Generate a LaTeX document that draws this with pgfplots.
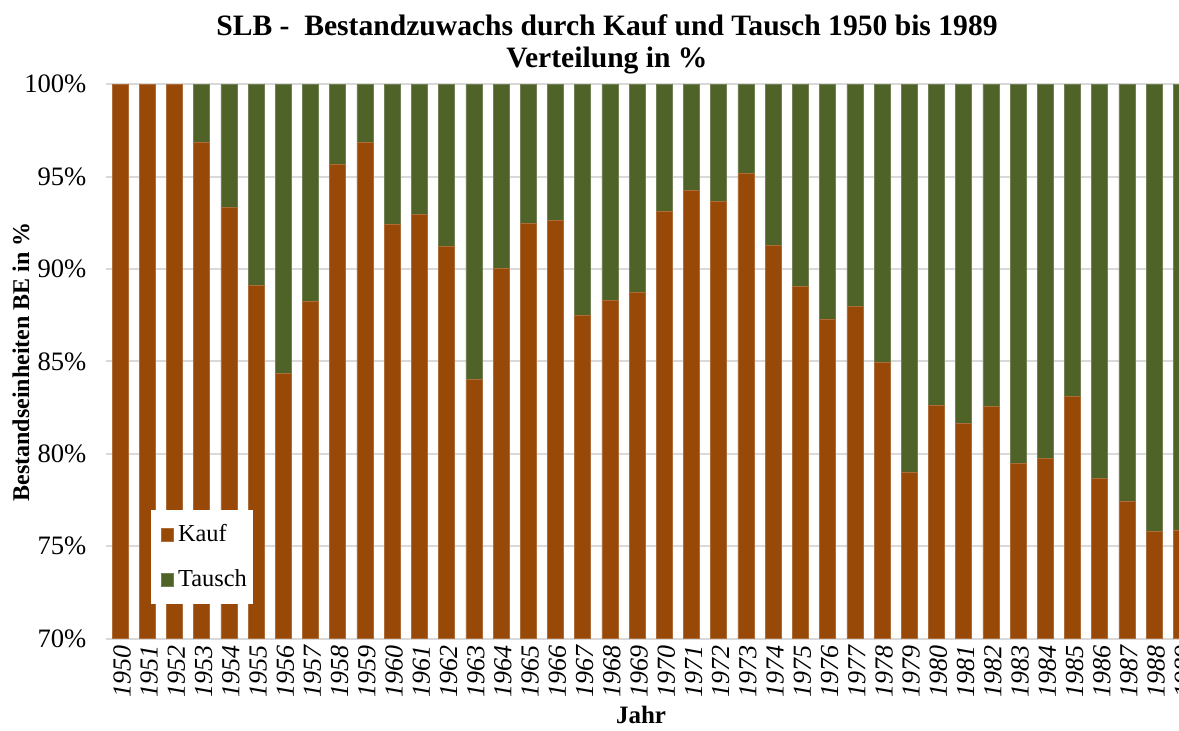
\documentclass[border=0pt]{standalone}
\usepackage{pgfplots}
\pgfplotsset{compat=1.18}
\usepackage{pgfplotstable}
\usepackage{fontspec}
\setmainfont{Liberation Serif}
\definecolor{kauf}{HTML}{984807}
\definecolor{tausch}{HTML}{4F6228}
\definecolor{gridc}{HTML}{D9D9D9}

\pgfplotstableread{
x kauf tausch
0 100 0
1 100 0
2 100 0
3 96.86 3.14
4 93.35 6.65
5 89.11 10.89
6 84.34 15.66
7 88.27 11.73
8 95.68 4.32
9 96.86 3.14
10 92.43 7.57
11 92.97 7.03
12 91.26 8.74
13 84.02 15.98
14 90.05 9.95
15 92.49 7.51
16 92.65 7.35
17 87.51 12.49
18 88.32 11.68
19 88.76 11.24
20 93.14 6.86
21 94.27 5.73
22 93.68 6.32
23 95.17 4.83
24 91.30 8.70
25 89.06 10.94
26 87.31 12.69
27 87.97 12.03
28 84.94 15.06
29 79.03 20.97
30 82.61 17.39
31 81.64 18.36
32 82.57 17.43
33 79.48 20.52
34 79.75 20.25
35 83.11 16.89
36 78.69 21.31
37 77.41 22.59
38 75.81 24.19
39 75.85 24.15
}\datatable

\begin{document}
\begin{tikzpicture}
\begin{axis}[
  scale only axis, width=544.3pt, height=277.2pt,
  ybar stacked, bar width=8pt,
  xmin=-0.5, xmax=39.5, ymin=70, ymax=100,
  xtick={0,...,39},
  xticklabels={1950,1951,1952,1953,1954,1955,1956,1957,1958,1959,1960,1961,1962,1963,1964,1965,1966,1967,1968,1969,1970,1971,1972,1973,1974,1975,1976,1977,1978,1979,1980,1981,1982,1983,1984,1985,1986,1987,1988,1989},
  ytick={70,75,80,85,90,95,100},
  yticklabels={70\%,75\%,80\%,85\%,90\%,95\%,100\%},
  xticklabel style={rotate=90, anchor=east, yshift=-1pt, font=\itshape\fontsize{13}{15}\selectfont},
  yticklabel style={font=\fontsize{13.3}{15}\selectfont, xshift=-6.5pt},
  major tick length=0pt,
  axis line style={draw=none},
  ymajorgrids, major grid style={draw=gridc, line width=1pt},
  legend style={at={(0.041,0.232)}, anchor=north west, draw=none, fill=white,
    font=\fontsize{12.2}{14}\selectfont, row sep=8.5pt, inner xsep=1pt, inner ysep=5pt,
    /tikz/every even column/.append style={column sep=2.3pt},
    /tikz/every odd column/.append style={inner xsep=0.5pt}},
  legend cell align=left,
  legend image code/.code={\path (-4pt,0pt); \fill[#1] (0pt,-3.2pt) rectangle (6pt,3.2pt);},
]
\addplot[fill=kauf, draw=kauf!80!white, line width=0.3pt] table[x=x, y=kauf] {\datatable};
\addplot[fill=tausch, draw=tausch!80!white, line width=0.3pt] table[x=x, y=tausch] {\datatable};
\legend{Kauf,Tausch}
\coordinate (SW) at (rel axis cs:0,0);
\end{axis}
\node[anchor=base, font=\bfseries\fontsize{14.8}{17}\selectfont] at ([shift={(250.3pt,301.4pt)}]SW) {SLB -\ \ Bestandzuwachs durch Kauf und Tausch 1950 bis 1989};
\node[anchor=base, font=\bfseries\fontsize{14.8}{17}\selectfont] at ([shift={(250.3pt,285.6pt)}]SW) {Verteilung in \%};
\node[rotate=90, font=\bfseries\fontsize{12}{14}\selectfont] at ([shift={(-42.7pt,138.4pt)}]SW) {Bestandseinheiten BE in \%};
\node[anchor=base, font=\bfseries\fontsize{12.5}{14}\selectfont] at ([shift={(267.3pt,-42.3pt)}]SW) {Jahr};
\pgfresetboundingbox
\path[use as bounding box] ([shift={(-53.2pt,-46.15pt)}]SW) rectangle ([shift={(536.3pt,319.35pt)}]SW);
\end{tikzpicture}
\end{document}
